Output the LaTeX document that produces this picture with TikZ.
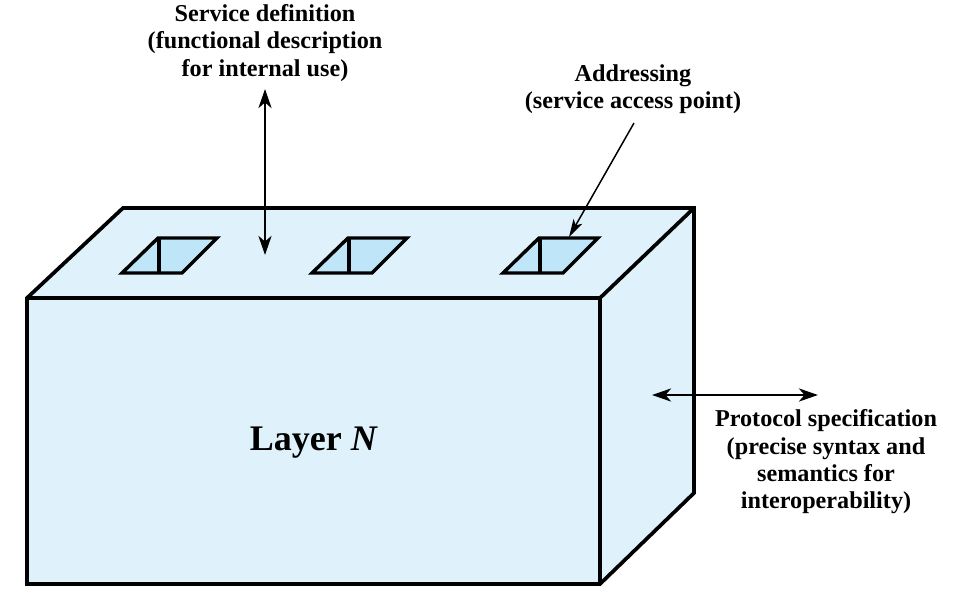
\documentclass[tikz,border=0pt]{standalone}
\usepackage{fontspec}
\setmainfont{Liberation Serif}
\usetikzlibrary{arrows.meta}
\definecolor{face}{HTML}{DFF2FC}
\definecolor{hole}{HTML}{BEE5F8}
\tikzset{
  lbl/.style={align=center, font=\fontsize{24.2}{27.3}\selectfont\bfseries, inner sep=0pt},
  edge/.style={line width=3.7pt, line join=miter},
  dbl/.style={line width=2.9pt, {Stealth[length=19pt,width=13pt,inset=5.5pt]}-{Stealth[length=19pt,width=13pt,inset=5.5pt]}},
  thin/.style={line width=1.5pt, -{Stealth[length=18pt,width=10pt,inset=4.5pt]}},
  holebox/.style={fill=hole, draw=black, line width=3.4pt, line join=miter}
}
\newcommand{\myhole}[1]{%
  \path[holebox] (#1+36,238) -- (#1+95,238) -- (#1+60,273) -- (#1,273) -- cycle;
  \draw[line width=3.2pt] (#1+37,238) -- (#1+37,273);
}
\begin{document}
\begin{tikzpicture}[x=1pt,y=-1pt]
\useasboundingbox (0,0) rectangle (964,597);
% faces
\fill[face] (27,298) rectangle (600,584);
\fill[face] (27,298) -- (123,208) -- (694,208) -- (600,298) -- cycle;
\fill[face] (600,298) -- (694,208) -- (694,493) -- (600,584) -- cycle;
\draw[edge] (27,584) -- (27,298) -- (123,208) -- (694,208) -- (694,493) -- (600,584) -- cycle;
\draw[edge] (27,298) -- (600,298) -- (694,208);
\draw[edge] (600,298) -- (600,584);
% holes
\myhole{122}
\myhole{312}
\myhole{503}
% labels
\node[lbl] (sd) at (265,43) {Service definition\\(functional description\\for internal use)};
\node[lbl] (ad) at (633,89) {Addressing\\(service access point)};
\node[lbl] (ps) at (826,462) {Protocol specification\\(precise syntax and\\semantics for\\interoperability)};
\node[inner sep=0pt, font=\fontsize{36}{40}\selectfont\bfseries] (ln) at (314,443) {Layer \textit{N}};
% connectors
\coordinate (sdtop) at (265,89);
\coordinate (sdbot) at (265,255);
\draw[dbl] (sdtop) -- (sdbot);
\coordinate (adstart) at (634,123);
\coordinate (adend) at (569,237);
\draw[thin] (adstart) -- (adend);
\coordinate (psl) at (652,395);
\coordinate (psr) at (818,395);
\draw[dbl] (psl) -- (psr);
\end{tikzpicture}
\end{document}
